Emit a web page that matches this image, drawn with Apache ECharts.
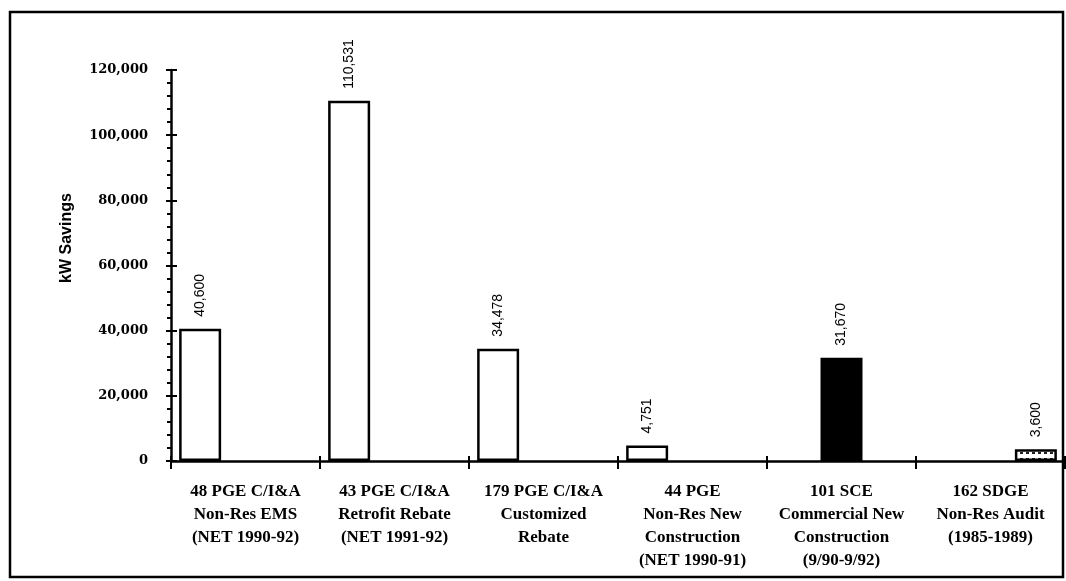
<!DOCTYPE html>
<html>
<head>
<meta charset="utf-8">
<script src="https://cdn.jsdelivr.net/npm/echarts@6/dist/echarts.min.js"></script>
<style>
  html, body { margin: 0; padding: 0; background: #fff; }
  #chart { width: 1066px; height: 581px; }
</style>
</head>
<body>
<div id="chart"></div>
<script>
// Programs (category axis), one label line per "\n"
const categories = [
  '48 PGE C/I&A\nNon-Res EMS\n(NET 1990-92)',
  '43 PGE C/I&A\nRetrofit Rebate\n(NET 1991-92)',
  '179 PGE C/I&A\nCustomized\nRebate',
  '44 PGE\nNon-Res New\nConstruction\n(NET 1990-91)',
  '101 SCE\nCommercial New\nConstruction\n(9/90-9/92)',
  '162 SDGE\nNon-Res Audit\n(1985-1989)'
];

// kW savings per program, split by bar style
const openBars   = [40600, 110531, 34478, 4751, null, null];
const solidBars  = [null, null, null, null, 31670, null];
const dottedBars = [null, null, null, null, null, 3600];

// Value axis range
const yMin = 0;
const yMax = 120000;
const yStep = 20000;

const fmt = v => Number(v).toLocaleString('en-US');

// Hatched fill for the dotted bar
const hatch = document.createElement('canvas');
hatch.width = 6; hatch.height = 6;
const hctx = hatch.getContext('2d');
hctx.fillStyle = '#fff'; hctx.fillRect(0, 0, 6, 6);
hctx.fillStyle = '#222'; hctx.fillRect(0, 2, 3, 2);

const chart = echarts.init(document.getElementById('chart'));

const valueLabel = {
  show: true,
  position: 'top',
  rotate: 90,
  align: 'left',
  verticalAlign: 'middle',
  distance: 12,
  color: '#000',
  fontFamily: 'Liberation Sans',
  fontSize: 14,
  formatter: p => fmt(p.value)
};

function barSeries(data, style) {
  return {
    type: 'bar',
    data: data,
    barWidth: 42,
    barGap: '8%',
    itemStyle: Object.assign({ borderColor: '#000', borderWidth: 2.5 }, style),
    label: valueLabel,
    emphasis: { disabled: true },
    animation: false
  };
}

chart.setOption({
  animation: false,
  grid: { left: 171, top: 70, width: 894, bottom: 120, containLabel: false },
  xAxis: [
    {
      type: 'category',
      data: categories,
      axisLine: { lineStyle: { color: '#000', width: 2.5 } },
      axisTick: { show: true, length: 8, lineStyle: { color: '#000', width: 2 } },
      axisLabel: {
        margin: 19,
        color: '#000',
        fontFamily: 'Liberation Serif',
        fontWeight: 'bold',
        fontSize: 17,
        lineHeight: 23,
        interval: 0
      }
    },
    {
      type: 'category',
      data: categories,
      position: 'bottom',
      axisLine: { show: false },
      axisTick: { show: true, inside: true, length: 5, lineStyle: { color: '#000', width: 2 } },
      axisLabel: { show: false }
    }
  ],
  yAxis: [
    {
      type: 'value',
      min: yMin,
      max: yMax,
      interval: yStep,
      axisLine: { show: true, lineStyle: { color: '#000', width: 2.5 } },
      axisTick: { show: true, length: 5, lineStyle: { color: '#000', width: 2 } },
      minorTick: { show: true, splitNumber: 5, length: 4, lineStyle: { color: '#000', width: 2 } },
      splitLine: { show: false },
      axisLabel: {
        margin: 23,
        color: '#000',
        fontFamily: 'DejaVu Serif',
        fontWeight: 'bold',
        fontSize: 13,
        formatter: v => fmt(v)
      }
    },
    {
      type: 'value',
      min: yMin,
      max: yMax,
      interval: yStep,
      position: 'left',
      axisLine: { show: false },
      axisTick: { show: true, inside: true, length: 6, lineStyle: { color: '#000', width: 2 } },
      splitLine: { show: false },
      axisLabel: { show: false }
    }
  ],
  series: [
    barSeries(openBars, { color: '#fff' }),
    barSeries(solidBars, { color: '#000' }),
    barSeries(dottedBars, { color: { image: hatch, repeat: 'repeat' } })
  ],
  graphic: [
    {
      type: 'rect',
      shape: { x: 10, y: 12, width: 1053, height: 565 },
      style: { fill: 'none', stroke: '#000', lineWidth: 2.5 },
      silent: true
    },
    {
      type: 'text',
      x: 67,
      y: 238,
      rotation: Math.PI / 2,
      style: {
        text: 'kW Savings',
        fill: '#000',
        font: 'bold 16px "Liberation Sans"',
        align: 'center',
        verticalAlign: 'middle'
      },
      silent: true
    }
  ]
});
</script>
</body>
</html>
